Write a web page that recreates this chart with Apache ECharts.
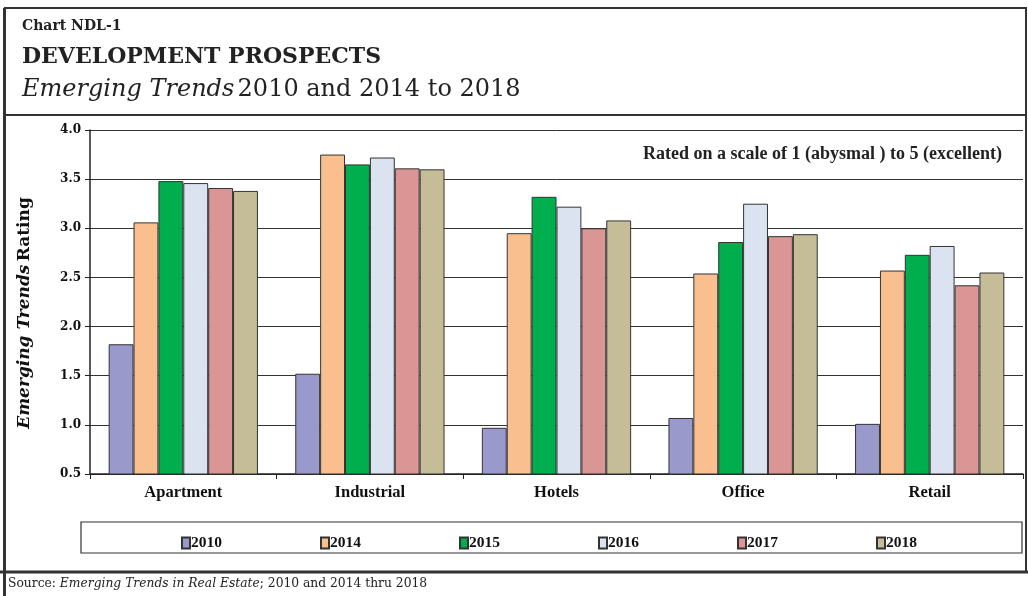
<!DOCTYPE html>
<html>
<head>
<meta charset="utf-8">
<style>
  html, body { margin: 0; padding: 0; background: #fff; }
  #chart { width: 1028px; height: 596px; }
</style>
<script src="https://cdn.jsdelivr.net/npm/echarts@6/dist/echarts.min.js"></script>
</head>
<body>
<div id="chart"></div>
<script>
// Property sectors on the category axis
const categories = ['Apartment', 'Industrial', 'Hotels', 'Office', 'Retail'];

// Survey years and their ratings per sector (1 = abysmal, 5 = excellent)
const years = ['2010', '2014', '2015', '2016', '2017', '2018'];
const rating2010 = [1.82, 1.52, 0.97, 1.07, 1.01];
const rating2014 = [3.06, 3.75, 2.95, 2.54, 2.57];
const rating2015 = [3.48, 3.65, 3.32, 2.86, 2.73];
const rating2016 = [3.46, 3.72, 3.22, 3.25, 2.82];
const rating2017 = [3.41, 3.61, 3.00, 2.92, 2.42];
const rating2018 = [3.38, 3.60, 3.08, 2.94, 2.55];
const seriesValues = [rating2010, rating2014, rating2015, rating2016, rating2017, rating2018];

const yearColors = ['#9999cc', '#f9bf8f', '#00ae4d', '#dce3f0', '#d99694', '#c4bd97'];

const serif = '"Liberation Serif", "DejaVu Serif", serif';
const wideSerif = '"DejaVu Serif", "Liberation Serif", serif';

const chart = echarts.init(document.getElementById('chart'), null, { renderer: 'canvas' });

const series = years.map((y, i) => ({
  name: y,
  type: 'bar',
  data: seriesValues[i],
  barGap: '0%',
  barCategoryGap: '20%',
  itemStyle: { color: yearColors[i], borderColor: '#333', borderWidth: 1 }
}));

chart.setOption({
  animation: false,
  backgroundColor: '#fff',
  grid: { left: 90, right: 5, top: 130, bottom: 122, containLabel: false, outerBoundsMode: 'none' },
  xAxis: {
    type: 'category',
    data: categories,
    axisLine: { lineStyle: { color: '#222', width: 1.5 } },
    axisTick: { show: true, length: 5, lineStyle: { color: '#222' } },
    axisLabel: { color: '#111', fontFamily: serif, fontWeight: 'bold', fontSize: 16.5, margin: 10 }
  },
  yAxis: {
    type: 'value',
    min: 0.5,
    max: 4.0,
    interval: 0.5,
    axisLine: { show: true, lineStyle: { color: '#222', width: 1.5 } },
    axisTick: { show: true, length: 5, lineStyle: { color: '#222' } },
    splitLine: { lineStyle: { color: '#333', width: 1 } },
    axisLabel: {
      color: '#111', fontFamily: wideSerif, fontWeight: 'bold', fontSize: 12, margin: 9,
      formatter: v => v.toFixed(1)
    }
  },
  legend: {
    data: years,
    top: 530,
    left: 176,
    itemWidth: 8,
    itemHeight: 11,
    itemGap: 98,
    icon: 'rect',
    textStyle: { fontFamily: serif, fontWeight: 'bold', fontSize: 15.5, color: '#111', padding: [0, 0, 0, -4] }
  },
  series: series,
  graphic: [
    // outer frame
    { type: 'rect', shape: { x: 5, y: 8, width: 1021, height: 564 },
      style: { fill: 'none', stroke: '#333', lineWidth: 2 }, silent: true },
    { type: 'line', shape: { x1: 4.5, y1: 8, x2: 4.5, y2: 596 },
      style: { stroke: '#333', lineWidth: 3 }, silent: true },
    // header divider
    { type: 'line', shape: { x1: 5, y1: 115, x2: 1026, y2: 115 },
      style: { stroke: '#333', lineWidth: 2 }, silent: true },
    // bottom rule above the source line
    { type: 'line', shape: { x1: 0, y1: 572, x2: 1028, y2: 572 },
      style: { stroke: '#333', lineWidth: 3 }, silent: true },
    // header texts
    { type: 'text', left: 22, top: 19,
      style: { text: 'Chart NDL-1', font: 'bold 14px ' + wideSerif, fill: '#222' } },
    { type: 'text', left: 22, top: 46,
      style: { text: 'DEVELOPMENT PROSPECTS', font: 'bold 22px ' + wideSerif, fill: '#222' } },
    { type: 'text', left: 22, top: 78,
      style: {
        text: '{i|Emerging Trends} {r|2010 and 2014 to 2018}',
        rich: {
          i: { fontFamily: wideSerif, fontStyle: 'italic', fontSize: 24, fill: '#222' },
          r: { fontFamily: wideSerif, fontSize: 24, fill: '#222' }
        }
      } },
    // value-axis title
    { type: 'text', x: 25, y: 313, rotation: Math.PI / 2,
      style: {
        text: '{i|Emerging Trends} {b|Rating}',
        align: 'center', verticalAlign: 'middle',
        rich: {
          i: { fontFamily: wideSerif, fontStyle: 'italic', fontWeight: 'bold', fontSize: 17, fill: '#111' },
          b: { fontFamily: wideSerif, fontWeight: 'bold', fontSize: 17, fill: '#111' }
        }
      } },
    // scale note inside the plot
    { type: 'text', left: 643, top: 145,
      style: { text: 'Rated on a scale of 1 (abysmal ) to 5 (excellent)', font: 'bold 18px ' + serif, fill: '#222' } },
    // legend box
    { type: 'rect', shape: { x: 81, y: 522, width: 941, height: 31 },
      style: { fill: 'none', stroke: '#333', lineWidth: 1.2 }, silent: true, z: -1 },
    // source line
    { type: 'text', left: 8, top: 578,
      style: {
        text: '{r|Source: }{i|Emerging Trends in Real Estate}{r|; 2010 and 2014 thru 2018}',
        rich: {
          r: { fontFamily: wideSerif, fontSize: 12.3, fill: '#222' },
          i: { fontFamily: wideSerif, fontStyle: 'italic', fontSize: 12.3, fill: '#222' }
        }
      } }
  ]
});
</script>
</body>
</html>
